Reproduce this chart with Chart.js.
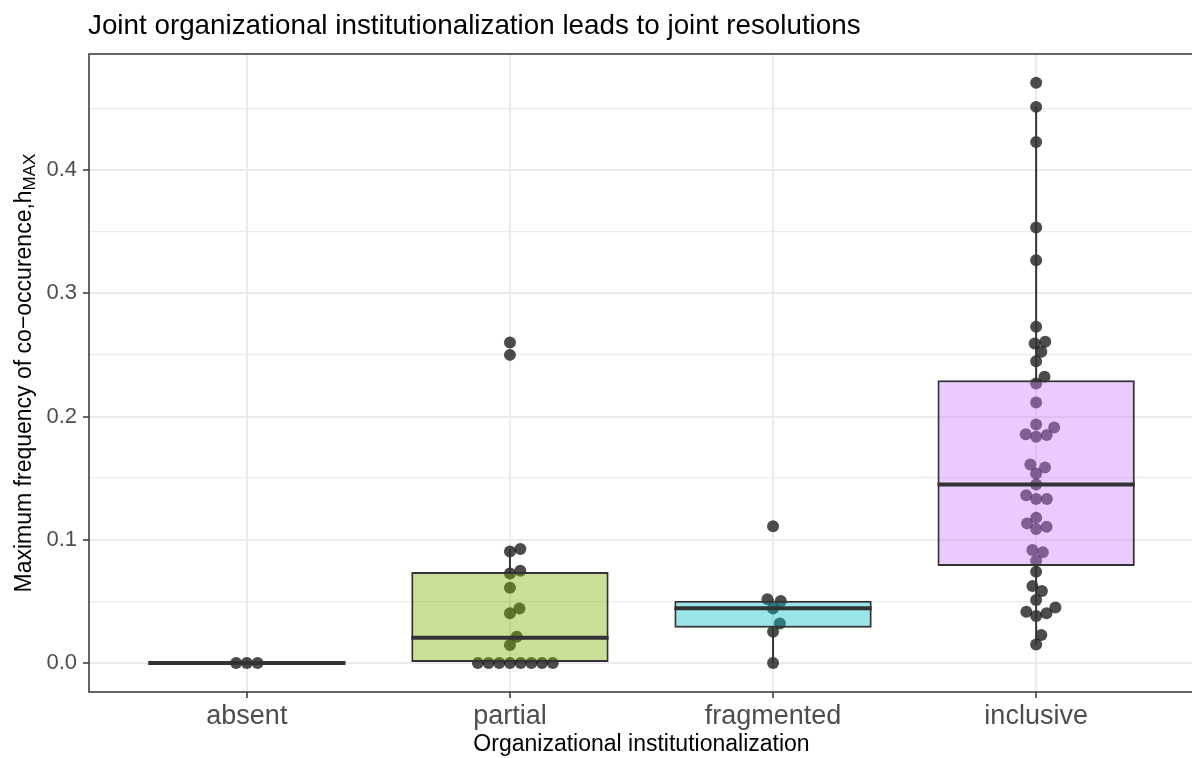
<!DOCTYPE html>
<html>
<head>
<meta charset="utf-8">
<script src="https://cdn.jsdelivr.net/npm/chart.js@4.4.1/dist/chart.umd.min.js"></script>
<style>
  html, body { margin: 0; padding: 0; overflow: hidden; background: #fff; }
  #wrap { width: 1200px; height: 758px; }
</style>
</head>
<body>
<div id="wrap"><canvas id="chart" width="1200" height="758"></canvas></div>
<script>
const categories = ['absent', 'partial', 'fragmented', 'inclusive'];

const absentValues = [0, 0, 0];
const partialValues = [0, 0, 0, 0, 0, 0, 0, 0, 0.0146, 0.0213, 0.0403, 0.0443, 0.0611,
  0.0727, 0.0749, 0.0905, 0.0925, 0.250, 0.260];
const fragmentedValues = [0, 0.0254, 0.0321, 0.0443, 0.0503, 0.0517, 0.111];
const inclusiveValues = [0.4707, 0.4512, 0.4228, 0.3533, 0.3268, 0.2728, 0.2606, 0.2593,
  0.2525, 0.2449, 0.2322, 0.2268, 0.2114, 0.1936, 0.1911, 0.1857, 0.1849, 0.1835, 0.1611,
  0.1587, 0.1538, 0.1449, 0.1362, 0.1330, 0.1330, 0.1178, 0.1133, 0.1106, 0.1087, 0.0917,
  0.0898, 0.0830, 0.0741, 0.0624, 0.0584, 0.0511, 0.0451, 0.0416, 0.0403, 0.0381, 0.0227,
  0.0151];

// box statistics as drawn
const boxQ1 = [0, 0, 0.0287, 0.0787];
const boxQ3 = [0, 0.0738, 0.0506, 0.2295];
const medians = [0, 0.0205, 0.0444, 0.1449];
const whiskerLow = [0, 0, 0, 0.0151];
const whiskerHigh = [0, 0.0925, 0.0517, 0.4512];

const yGridValues = [0, 0.05, 0.1, 0.15, 0.2, 0.25, 0.3, 0.35, 0.4, 0.45];

const groups = [absentValues, partialValues, fragmentedValues, inclusiveValues];
const boxFill = ['rgba(248,118,109,0.4)', 'rgba(124,174,0,0.4)', 'rgba(0,191,196,0.4)', 'rgba(199,124,255,0.4)'];

Chart.defaults.font.family = "'Liberation Sans', Arial, sans-serif";

const isMajor = v => Math.round(v * 100) % 10 === 0;

const boxExtras = {
  id: 'boxExtras',
  afterDatasetsDraw(chart) {
    const { ctx, scales: { y } } = chart;
    const bars = chart.getDatasetMeta(1).data;
    ctx.save();
    ctx.strokeStyle = '#333333';
    bars.forEach((bar, i) => {
      const cx = bar.x, half = bar.width / 2;
      ctx.lineWidth = 2;
      ctx.beginPath();
      ctx.moveTo(cx, y.getPixelForValue(boxQ3[i]));
      ctx.lineTo(cx, y.getPixelForValue(whiskerHigh[i]));
      ctx.moveTo(cx, y.getPixelForValue(boxQ1[i]));
      ctx.lineTo(cx, y.getPixelForValue(whiskerLow[i]));
      ctx.stroke();
      ctx.lineWidth = 4;
      ctx.beginPath();
      ctx.moveTo(cx - half, y.getPixelForValue(medians[i]));
      ctx.lineTo(cx + half, y.getPixelForValue(medians[i]));
      ctx.stroke();
    });
    ctx.restore();
  },
  afterDraw(chart) {
    const { ctx, chartArea: a } = chart;
    ctx.save();
    ctx.strokeStyle = '#333333';
    ctx.lineWidth = 1.5;
    ctx.strokeRect(a.left, a.top, a.right - a.left, a.bottom - a.top);

    ctx.fillStyle = '#000';
    ctx.font = "27.8px 'Liberation Sans', Arial, sans-serif";
    ctx.textBaseline = 'alphabetic';
    ctx.fillText('Joint organizational institutionalization leads to joint resolutions', 88, 34);

    // y title with subscript
    const main = 'Maximum frequency of co\u2212occurence,h';
    const sub = 'MAX';
    ctx.font = "23px 'Liberation Sans', Arial, sans-serif";
    const wMain = ctx.measureText(main).width;
    ctx.font = "17px 'Liberation Sans', Arial, sans-serif";
    const wSub = ctx.measureText(sub).width;
    const total = wMain + wSub;
    ctx.translate(31, (a.top + a.bottom) / 2);
    ctx.rotate(-Math.PI / 2);
    ctx.font = "23px 'Liberation Sans', Arial, sans-serif";
    ctx.fillText(main, -total / 2, 0);
    ctx.font = "17px 'Liberation Sans', Arial, sans-serif";
    ctx.fillText(sub, -total / 2 + wMain, 4);
    ctx.restore();
  }
};

function swarmOffsets(values, yScale, diameter) {
  const order = values.map((v, i) => i).sort((a, b) => values[a] - values[b]);
  const placed = [];
  const offs = new Array(values.length).fill(0);
  order.forEach(i => {
    const py = yScale.getPixelForValue(values[i]);
    const near = placed.filter(p => Math.abs(p.py - py) < diameter);
    const cands = [0];
    near.forEach(p => {
      const dx = Math.sqrt(diameter * diameter - (p.py - py) ** 2);
      cands.push(p.px + dx, p.px - dx);
    });
    const ok = cands.filter(c => near.every(p => Math.hypot(p.px - c, p.py - py) >= diameter - 0.01));
    ok.sort((a, b) => Math.abs(a) - Math.abs(b) || b - a);
    placed.push({ px: ok[0], py });
    offs[i] = ok[0];
  });
  return offs;
}

const chart = new Chart(document.getElementById('chart'), {
  type: 'scatter',
  data: {
    datasets: [{
      type: 'scatter',
      order: 2,
      data: groups.flatMap((vals, g) => vals.map(v => ({ x: g, y: v }))),
      pointRadius: 6,
      pointBorderWidth: 0,
      pointBackgroundColor: 'rgba(0,0,0,0.7)'
    }, {
      type: 'bar',
      order: 1,
      data: categories.map((c, i) => ({ x: i, y: [boxQ1[i], boxQ3[i]] })),
      backgroundColor: boxFill,
      borderColor: '#333333',
      borderWidth: 2,
      borderSkipped: false,
      barPercentage: 0.75,
      categoryPercentage: 1
    }]
  },
  options: {
    responsive: false,
    animation: false,
    events: [],
    layout: { padding: { top: 54, right: 2, left: 0, bottom: 0 } },
    plugins: { legend: { display: false }, tooltip: { enabled: false } },
    scales: {
      x: {
        type: 'linear',
        min: -0.6,
        max: 3.6,
        offset: false,
        afterBuildTicks: s => { s.ticks = categories.map((c, i) => ({ value: i })); },
        afterFit: s => { s.height = 66; },
        ticks: {
          callback: v => categories[v],
          color: '#4d4d4d',
          font: { size: 27 },
          padding: 2,
          maxRotation: 0,
          autoSkip: false
        },
        grid: { offset: false, color: '#ebebeb', lineWidth: 2, tickColor: '#333333', tickLength: 6, tickWidth: 1.5 },
        border: { display: false },
        title: {
          display: true,
          text: 'Organizational institutionalization',
          color: '#000',
          font: { size: 23 },
          padding: { top: 0, bottom: 0 }
        }
      },
      y: {
        min: -0.0235,
        max: 0.4941,
        afterBuildTicks: s => { s.ticks = yGridValues.map(v => ({ value: v })); },
        afterFit: s => { s.width = 89; },
        ticks: {
          callback: v => isMajor(v) ? v.toFixed(1) : '',
          color: '#4d4d4d',
          font: { size: 22 },
          padding: 6
        },
        grid: {
          color: '#ebebeb',
          lineWidth: c => isMajor(c.tick.value) ? 2 : 1.3,
          tickColor: c => isMajor(c.tick.value) ? '#333333' : 'rgba(0,0,0,0)',
          tickLength: 6,
          tickWidth: 1.5
        },
        border: { display: false }
      }
    }
  },
  plugins: [boxExtras]
});

// beeswarm layout of the dots, using the chart's own scales
const pxPerUnit = chart.scales.x.getPixelForValue(1) - chart.scales.x.getPixelForValue(0);
chart.data.datasets[0].data = groups.flatMap((vals, g) => {
  const offs = swarmOffsets(vals, chart.scales.y, 10.7);
  return vals.map((v, k) => ({ x: g + offs[k] / pxPerUnit, y: v }));
});
chart.update('none');
</script>
</body>
</html>
